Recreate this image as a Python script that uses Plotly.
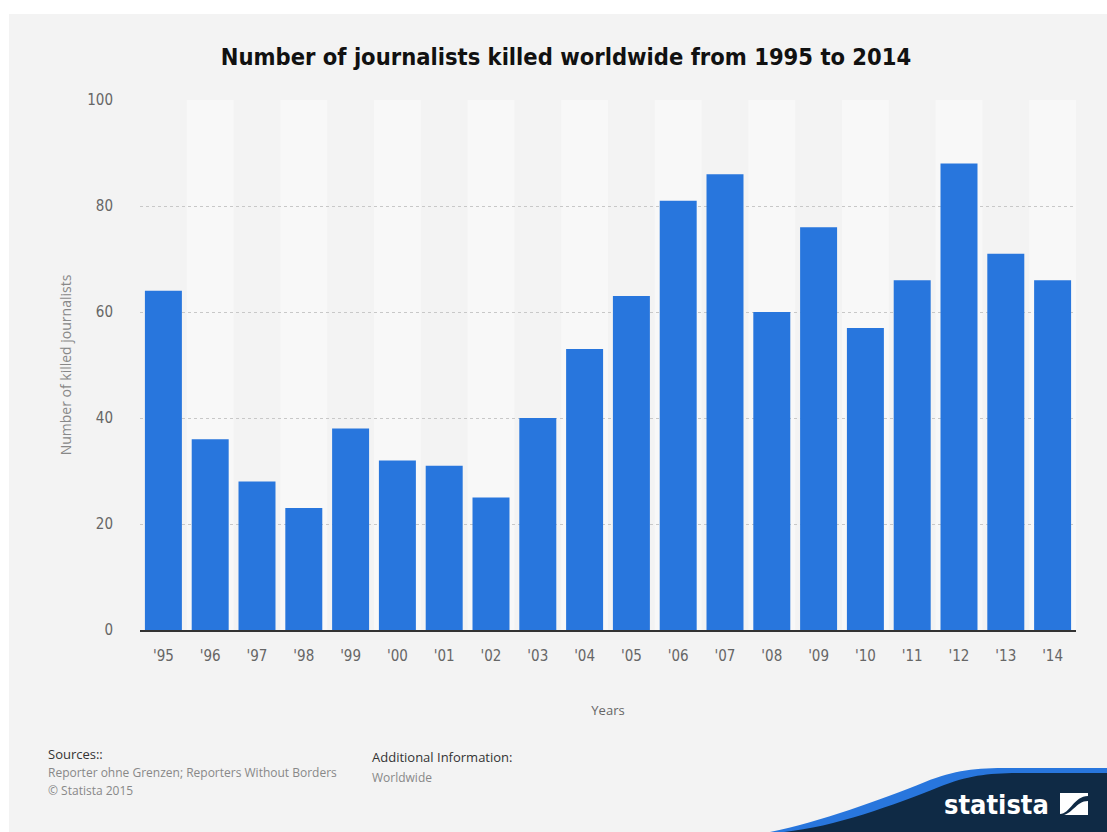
import plotly.graph_objects as go

years = ["'95", "'96", "'97", "'98", "'99", "'00", "'01", "'02", "'03", "'04",
         "'05", "'06", "'07", "'08", "'09", "'10", "'11", "'12", "'13", "'14"]
killed = [64, 36, 28, 23, 38, 32, 31, 25, 40, 53, 63, 81, 86, 60, 76, 57, 66, 88, 71, 66]
y_ticks = [0, 20, 40, 60, 80, 100]

title = "Number of journalists killed worldwide from 1995 to 2014"
y_title = "Number of killed journalists"
x_title = "Years"

W, H = 1107, 832
L, R, T, B = 140, 31, 100, 202
PW, PH = W - L - R, H - T - B


def px(x):
    return (x - L) / PW


def py(y):
    return (H - B - y) / PH


BLUE = "#2876dd"
NAVY = "#0f2a45"
SANS = "Open Sans, Noto Sans, sans-serif"
COND = "DejaVu Sans Condensed, DejaVu Sans"

fig = go.Figure()
fig.add_trace(go.Bar(x=years, y=killed, marker_color=BLUE, marker_line_width=0,
                     hoverinfo="x+y"))

shapes = []
# gray card background
shapes.append(dict(type="rect", xref="paper", yref="paper", x0=px(9), x1=px(W), y0=py(H), y1=py(14),
                   fillcolor="#f3f3f3", line_width=0, layer="below"))
# alternating column bands
for i in range(len(years)):
    if i % 2 == 1:
        shapes.append(dict(type="rect", xref="x", yref="y", x0=i - 0.5, x1=i + 0.5, y0=0, y1=100,
                           fillcolor="#f8f8f8", line_width=0, layer="below"))


def wave(dx, dy):
    d = "M {} {}".format(px(770 + dx), py(H))
    d += " C {} {}, {} {}, {} {}".format(px(820 + dx), py(822 + dy), px(880 + dx), py(800 + dy),
                                          px(925 + dx), py(782 + dy))
    d += " C {} {}, {} {}, {} {}".format(px(955 + dx), py(770 + dy), px(975 + dx), py(768 + dy),
                                          px(1010 + dx), py(768 + dy))
    d += " L {} {} L {} {} Z".format(px(W), py(768 + dy), px(W), py(H))
    return d


shapes.append(dict(type="path", xref="paper", yref="paper", path=wave(0, 0), fillcolor=BLUE,
                   line_width=0, layer="above"))
shapes.append(dict(type="path", xref="paper", yref="paper", path=wave(14, 5), fillcolor=NAVY,
                   line_width=0, layer="above"))
# logo icon
ix0, ix1, iy0, iy1 = 1060, 1088, 793, 815
shapes.append(dict(type="rect", xref="paper", yref="paper", x0=px(ix0), x1=px(ix1), y0=py(iy1), y1=py(iy0),
                   fillcolor="white", line_width=0, layer="above"))
sw = ("M {} {} C {} {}, {} {}, {} {} L {} {} C {} {}, {} {}, {} {} Z").format(
    px(ix0), py(iy1 - 1),
    px(ix0 + 10), py(iy1 - 1), px(ix1 - 14), py(iy0 + 3), px(ix1), py(iy0 + 3),
    px(ix1), py(iy0 + 8),
    px(ix1 - 12), py(iy0 + 8), px(ix0 + 12), py(iy1 + 0.5), px(ix0), py(iy1 + 0.5))
shapes.append(dict(type="path", xref="paper", yref="paper", path=sw, fillcolor=NAVY,
                   line_width=0, layer="above"))

annotations = [
    dict(text="Sources::", x=px(46), y=py(754), xref="paper", yref="paper", xanchor="left", yanchor="middle",
         showarrow=False, font=dict(family=SANS, size=13, color="#333")),
    dict(text="Reporter ohne Grenzen; Reporters Without Borders", x=px(46), y=py(772), xref="paper",
         yref="paper", xanchor="left", yanchor="middle", showarrow=False,
         font=dict(family=SANS, size=12, color="#888")),
    dict(text="© Statista 2015", x=px(46), y=py(790), xref="paper", yref="paper", xanchor="left",
         yanchor="middle", showarrow=False,
         font=dict(family=SANS, size=12, color="#888")),
    dict(text="Additional Information:", x=px(370), y=py(757), xref="paper", yref="paper", xanchor="left",
         yanchor="middle", showarrow=False,
         font=dict(family=SANS, size=13, color="#333")),
    dict(text="Worldwide", x=px(370), y=py(777), xref="paper", yref="paper", xanchor="left",
         yanchor="middle", showarrow=False,
         font=dict(family=SANS, size=12, color="#888")),
    dict(text="<b>statista</b>", x=px(1051), y=py(804), xref="paper", yref="paper", xanchor="right",
         yanchor="middle", showarrow=False,
         font=dict(family=COND, size=27, color="white")),
]

fig.update_layout(
    width=W, height=H,
    margin=dict(l=L, r=R, t=T, b=B),
    paper_bgcolor="white", plot_bgcolor="rgba(0,0,0,0)",
    title=dict(text="<b>" + title + "</b>", x=px(566), xref="paper", xanchor="center",
               y=1 - 57 / H, yanchor="middle",
               font=dict(family=COND, size=23.5, color="#111")),
    bargap=0.21,
    showlegend=False,
    shapes=shapes,
    annotations=annotations,
    xaxis=dict(
        showgrid=False, showline=True, linecolor="#333", linewidth=2,
        ticks="", ticklabelstandoff=11,
        tickfont=dict(family=COND, size=15, color="#666"),
        title=dict(text=x_title, standoff=42,
                   font=dict(family=SANS, size=13, color="#666")),
        range=[-0.5, len(years) - 0.5], fixedrange=True,
    ),
    yaxis=dict(
        range=[0, 100], tickvals=y_ticks, showgrid=True, gridcolor="#c8c8c8", griddash="dot",
        gridwidth=1, zeroline=False, showline=False, ticks="", ticklabelstandoff=26,
        tickfont=dict(family=COND, size=15, color="#666"),
        title=dict(text=y_title, standoff=12,
                   font=dict(family=SANS, size=14, color="#888")),
        fixedrange=True,
    ),
)

fig.write_html("out.html", config={"displayModeBar": False},
               post_script="document.body.style.margin='0';document.body.style.overflow='hidden';")
